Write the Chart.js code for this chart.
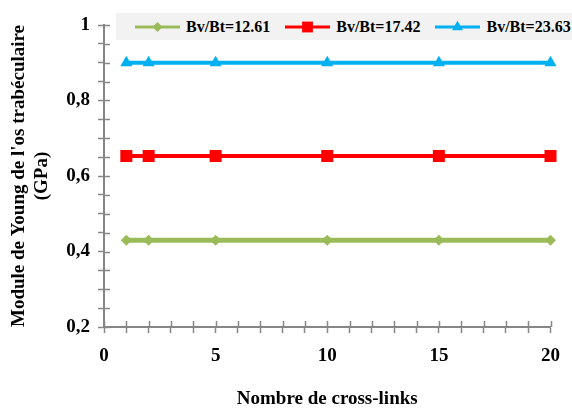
<!DOCTYPE html>
<html>
<head>
<meta charset="utf-8">
<script src="https://cdn.jsdelivr.net/npm/chart.js@4.4.0/dist/chart.umd.min.js"></script>
<style>
  html, body { margin: 0; padding: 0; background: #fff; }
  #wrap { position: relative; width: 572px; height: 410px; }
  #legend {
    position: absolute; left: 116px; top: 13px; width: 456px; height: 27px;
    background: #F2F2F2; display: flex; align-items: center; padding-left: 19px; box-sizing: border-box;
    font: bold 16px "Liberation Serif", serif; color: #000;
  }
  .item { display: flex; align-items: center; margin-right: 15px; }
  .item canvas { margin-right: 6px; }
</style>
</head>
<body>
<div id="wrap">
  <canvas id="chart" width="572" height="410"></canvas>
  <div id="legend"></div>
</div>
<script>
// Data
const crossLinks = [1, 2, 5, 10, 15, 20];
const labels = ['Bv/Bt=12.61', 'Bv/Bt=17.42', 'Bv/Bt=23.63'];
const young1261 = [0.43, 0.43, 0.43, 0.43, 0.43, 0.43];
const young1742 = [0.653, 0.653, 0.653, 0.653, 0.653, 0.653];
const young2363 = [0.9, 0.9, 0.9, 0.9, 0.9, 0.9];

const colors = ['#9BBB59', '#FF0000', '#00B0F0'];
const shapes = ['rectRot', 'rect', 'triangle'];
const radii = [5.5, 8.5, 7];
const widths = [5, 4, 4];
const seriesValues = [young1261, young1742, young2363];

const axisColor = '#868686';
const tickLen = 6;

const datasets = seriesValues.map((vals, i) => ({
    label: labels[i],
    data: crossLinks.map((x, j) => ({ x: x, y: vals[j] })),
    borderColor: colors[i],
    backgroundColor: colors[i],
    borderWidth: widths[i],
    pointStyle: shapes[i],
    pointRadius: radii[i],
    pointBorderWidth: 0,
    pointBackgroundColor: colors[i],
    clip: false,
    tension: 0
}));

// ticks that cross the axis line (inner half)
const innerTicks = {
    id: 'innerTicks',
    afterDraw(chart) {
        const ctx = chart.ctx;
        const xs = chart.scales.x, ys = chart.scales.y;
        ctx.save();
        ctx.strokeStyle = axisColor;
        ctx.lineWidth = 1.5;
        ctx.beginPath();
        xs.ticks.forEach(t => {
            const px = Math.round(xs.getPixelForValue(t.value)) + 0.5;
            ctx.moveTo(px, xs.top);
            ctx.lineTo(px, xs.top - tickLen);
        });
        ys.ticks.forEach(t => {
            const py = Math.round(ys.getPixelForValue(t.value)) + 0.5;
            ctx.moveTo(ys.right, py);
            ctx.lineTo(ys.right + tickLen, py);
        });
        ctx.stroke();
        ctx.restore();
    }
};

const font19 = { family: 'Liberation Serif', size: 19, weight: 'bold' };

new Chart(document.getElementById('chart'), {
    type: 'line',
    data: { datasets: datasets },
    options: {
        responsive: false,
        animation: false,
        layout: { padding: { left: 0, right: 20, top: 25, bottom: 0 } },
        plugins: { legend: { display: false }, tooltip: { enabled: false } },
        scales: {
            x: {
                type: 'linear', min: 0, max: 20,
                afterFit: s => { s.height = 83; },
                border: { display: true, color: axisColor, width: 2 },
                grid: { drawOnChartArea: false, drawTicks: true, tickLength: tickLen, tickColor: axisColor, tickWidth: 1.5 },
                ticks: {
                    stepSize: 1, autoSkip: false, maxRotation: 0, padding: 12,
                    color: '#000', font: font19,
                    callback: v => (v % 5 === 0 ? String(v) : '')
                },
                title: { display: true, text: 'Nombre de cross-links', color: '#000', font: font19, padding: { top: 0, bottom: 0 } }
            },
            y: {
                min: 0.2, max: 1,
                afterFit: s => { s.width = 104; },
                border: { display: true, color: axisColor, width: 2 },
                grid: { drawOnChartArea: false, drawTicks: true, tickLength: tickLen, tickColor: axisColor, tickWidth: 1.5 },
                ticks: {
                    stepSize: 0.05, autoSkip: false, padding: 8,
                    color: '#000', font: font19,
                    callback: v => {
                        const k = Math.round(v * 100);
                        if (k % 20 !== 0) return '';
                        return k === 100 ? '1' : (k / 100).toFixed(1).replace('.', ',');
                    }
                },
                title: { display: true, text: ["Module de Young de l'os trabéculaire", '(GPa)'], color: '#000', font: font19, padding: { top: 8, bottom: 0 } }
            }
        }
    },
    plugins: [innerTicks]
});

// legend with line + marker swatches
function drawMarker(ctx, shape, x, y, r, color) {
    ctx.fillStyle = color;
    ctx.beginPath();
    if (shape === 'rect') {
        const s = r * Math.SQRT1_2;
        ctx.rect(x - s, y - s, 2 * s, 2 * s);
    } else if (shape === 'rectRot') {
        ctx.moveTo(x, y - r); ctx.lineTo(x + r, y); ctx.lineTo(x, y + r); ctx.lineTo(x - r, y);
    } else {
        const h = r * Math.sqrt(3) / 2;
        ctx.moveTo(x, y - r); ctx.lineTo(x + h, y + r / 2); ctx.lineTo(x - h, y + r / 2);
    }
    ctx.closePath();
    ctx.fill();
}

const legendEl = document.getElementById('legend');
labels.forEach((lab, i) => {
    const item = document.createElement('div');
    item.className = 'item';
    const c = document.createElement('canvas');
    c.width = 45; c.height = 20;
    const cx = c.getContext('2d');
    cx.strokeStyle = colors[i];
    cx.lineWidth = 3;
    cx.beginPath(); cx.moveTo(0, 10); cx.lineTo(45, 10); cx.stroke();
    drawMarker(cx, shapes[i], 22.5, 10, radii[i] * 0.9, colors[i]);
    const span = document.createElement('span');
    span.textContent = lab;
    item.appendChild(c);
    item.appendChild(span);
    legendEl.appendChild(item);
});
</script>
</body>
</html>
